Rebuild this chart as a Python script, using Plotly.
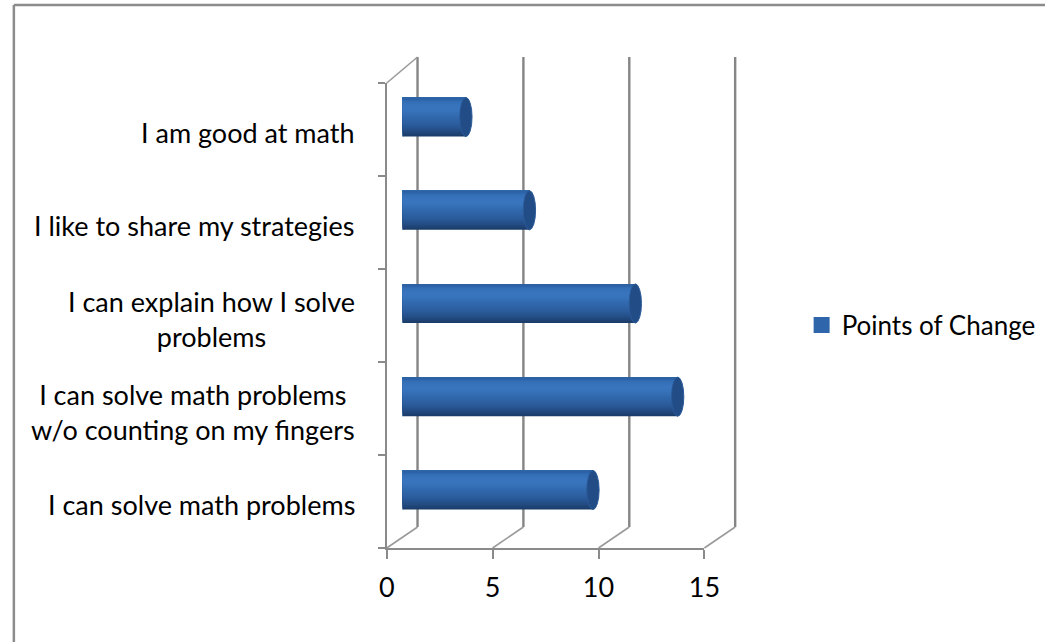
import plotly.graph_objects as go

# ---------------- data ----------------
categories = [
    "I can solve math problems",
    "I can solve math problems w/o counting on my fingers",
    "I can explain how I solve problems",
    "I like to share my strategies",
    "I am good at math",
]
category_labels = [
    "I can solve math problems",
    "I can solve math problems<br>w/o counting on my fingers",
    "I can explain how I solve<br>problems",
    "I like to share my strategies",
    "I am good at math",
]
points_of_change = [9, 13, 11, 6, 3]
series_name = "Points of Change"
x_ticks = [0, 5, 10, 15]
x_range = [0, 15]

# ---------------- layout geometry (pixels) ----------------
W, H = 1061, 642
FONT = "Lato, 'Open Sans', sans-serif"
FS = 27
GRAY = "#8a8a8a"

def px(x):
    return x / W

def py(y):
    return 1 - y / H

# front plane (axis with tick labels)
FX0, FX1 = 387.5, 712.5
FY_TOP, FY_BOT = 83, 548
# back wall
BX0, BX1 = 419, 744
BY_TOP, BY_BOT = 57, 527
# middle plane (bars)
MX0, MX1 = 403.5, 728.5
MY_TOP, MY_BOT = 70.4, 536.6

n = len(categories)

fig = go.Figure()

# cylinder shading: colour stops from bottom (0) to top (1) of the bar
stops = [
    (0.00, (26, 58, 102)),
    (0.12, (34, 73, 127)),
    (0.30, (43, 92, 156)),
    (0.50, (49, 104, 173)),
    (0.65, (55, 115, 186)),
    (0.75, (58, 118, 191)),
    (0.88, (52, 112, 183)),
    (0.96, (45, 100, 168)),
    (1.00, (42, 93, 157)),
]

def color_at(t):
    for (t0, c0), (t1, c1) in zip(stops[:-1], stops[1:]):
        if t0 <= t <= t1:
            f = 0 if t1 == t0 else (t - t0) / (t1 - t0)
            c = [round(a + (b - a) * f) for a, b in zip(c0, c1)]
            return "rgb(%d,%d,%d)" % tuple(c)
    return "rgb(%d,%d,%d)" % stops[-1][1]

BAR_H = 0.42
N_STRIPES = 24
for k in range(N_STRIPES):
    t = k / N_STRIPES
    off = -BAR_H / 2 + t * BAR_H
    fig.add_trace(go.Bar(
        x=points_of_change, y=categories, orientation="h",
        width=[BAR_H / 2 - off] * n, offset=[off] * n,
        marker=dict(color=color_at(t + 0.5 / N_STRIPES), line=dict(width=0)),
        showlegend=False, hoverinfo="skip",
        xaxis="x", yaxis="y",
    ))

# legend entry
fig.add_trace(go.Scatter(
    x=[None], y=[None], mode="markers", name=series_name,
    marker=dict(symbol="square", size=16, color="#2f66ab"),
    xaxis="x", yaxis="y", hoverinfo="skip",
))
# front axes carrier
fig.add_trace(go.Scatter(
    x=[None], y=[None], mode="markers", showlegend=False,
    xaxis="x2", yaxis="y2", hoverinfo="skip",
))

shapes = []
# border (top and left visible)
shapes.append(dict(type="line", xref="paper", yref="paper",
                   x0=px(6), x1=1, y0=py(5), y1=py(5),
                   line=dict(color="#8c8c8c", width=2.5), layer="below"))
shapes.append(dict(type="line", xref="paper", yref="paper",
                   x0=px(6), x1=px(6), y0=py(5), y1=0,
                   line=dict(color="#8c8c8c", width=2.5), layer="below"))

def front_x(v):
    return FX0 + (v - x_range[0]) / (x_range[1] - x_range[0]) * (FX1 - FX0)

def back_x(v):
    return BX0 + (v - x_range[0]) / (x_range[1] - x_range[0]) * (BX1 - BX0)

for v in x_ticks:
    # back wall gridline
    shapes.append(dict(type="line", xref="paper", yref="paper",
                       x0=px(back_x(v)), x1=px(back_x(v)),
                       y0=py(BY_BOT), y1=py(BY_TOP),
                       line=dict(color="#858585", width=2.4), layer="below"))
    # floor diagonal
    shapes.append(dict(type="line", xref="paper", yref="paper",
                       x0=px(front_x(v)), x1=px(back_x(v)),
                       y0=py(FY_BOT), y1=py(BY_BOT),
                       line=dict(color="#9a9a9a", width=1.6), layer="below"))
# left wall top edge
shapes.append(dict(type="line", xref="paper", yref="paper",
                   x0=px(FX0), x1=px(BX0), y0=py(FY_TOP), y1=py(BY_TOP),
                   line=dict(color="#9a9a9a", width=1.6), layer="below"))

# cylinder ends
half_h = BAR_H / 2
cap_w = 0.29
for i, v in enumerate(points_of_change):
    shapes.append(dict(type="circle", xref="x", yref="y",
                       x0=-cap_w, x1=cap_w, y0=i - half_h, y1=i + half_h,
                       fillcolor="#2d62a5", line=dict(width=0), layer="below"))
    shapes.append(dict(type="circle", xref="x", yref="y",
                       x0=v - cap_w, x1=v + cap_w, y0=i - half_h, y1=i + half_h,
                       fillcolor="#224c85", line=dict(color="#2a5a99", width=1),
                       layer="above"))

annotations = []
for i, lab in enumerate(category_labels):
    annotations.append(dict(
        xref="paper", yref="y2", x=px(357), y=i, xanchor="right", yanchor="middle",
        text=lab, showarrow=False, align="center", yshift=-3,
        font=dict(family=FONT, size=FS, color="#000000"),
    ))

fig.update_layout(
    width=W, height=H,
    margin=dict(l=0, r=0, t=0, b=0),
    paper_bgcolor="white", plot_bgcolor="rgba(0,0,0,0)",
    barmode="overlay", hovermode=False,
    font=dict(family=FONT, size=FS, color="#000000"),
    xaxis=dict(domain=[px(MX0), px(MX1)], range=x_range, visible=False,
               anchor="y", fixedrange=True),
    yaxis=dict(domain=[py(MY_BOT), py(MY_TOP)], range=[-0.5, n - 0.5],
               type="category", categoryorder="array", categoryarray=categories,
               visible=False, anchor="x", fixedrange=True),
    xaxis2=dict(domain=[px(FX0), px(FX1)], range=x_range, anchor="y2",
                tickvals=x_ticks, ticks="outside", ticklen=9, tickwidth=1.5,
                tickcolor=GRAY, showline=True, linecolor=GRAY, linewidth=1.5,
                showgrid=False, zeroline=False, ticklabelstandoff=6,
                tickfont=dict(family=FONT, size=FS, color="#000000"),
                fixedrange=True),
    yaxis2=dict(domain=[py(FY_BOT), py(FY_TOP)], range=[-0.5, n - 0.5],
                anchor="x2", tickvals=[k - 0.5 for k in range(n + 1)],
                ticks="outside", ticklen=7, tickwidth=1.5, tickcolor=GRAY,
                showticklabels=False, showline=True, linecolor=GRAY,
                linewidth=1.5, showgrid=False, zeroline=False, fixedrange=True),
    showlegend=True,
    legend=dict(x=px(812), y=py(325), xanchor="left", yanchor="middle",
                font=dict(family=FONT, size=FS - 1, color="#000000"),
                bgcolor="rgba(0,0,0,0)"),
    shapes=shapes,
    annotations=annotations,
)

fig.write_html("out.html")
